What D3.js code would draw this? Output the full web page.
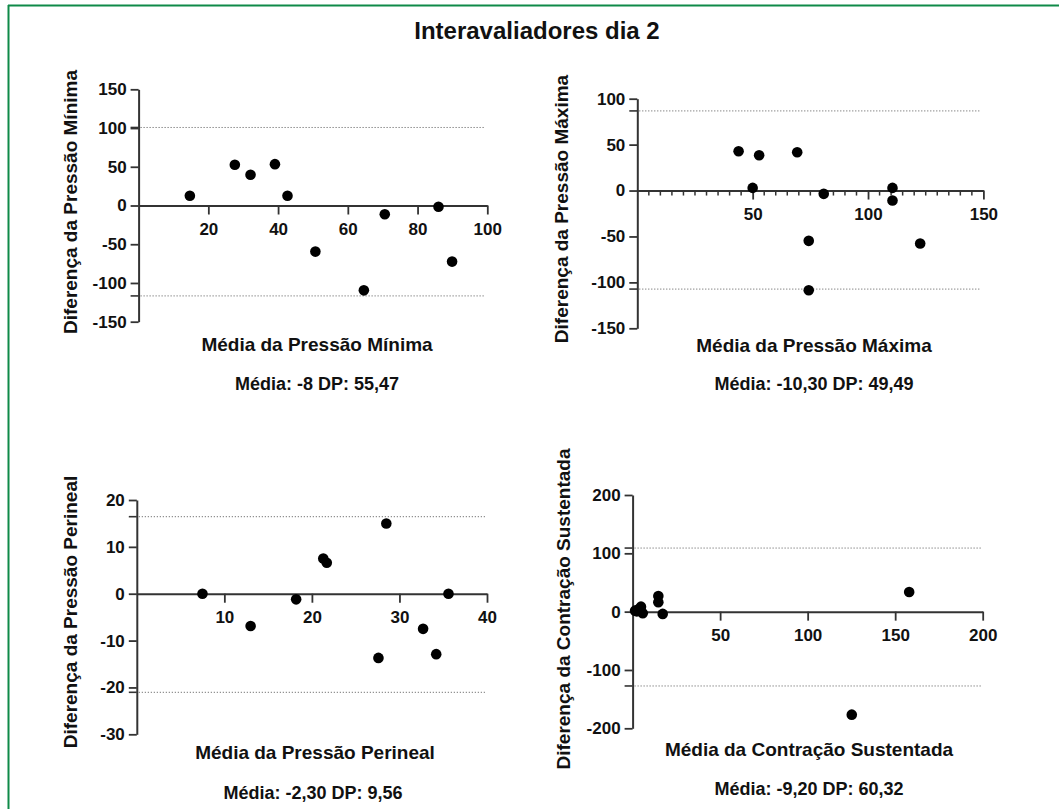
<!DOCTYPE html>
<html>
<head>
<meta charset="utf-8">
<script src="https://cdn.jsdelivr.net/npm/d3@7"></script>
<style>
  body { margin: 0; background: #fff; }
  text { font-family: "Liberation Sans", Arial, sans-serif; font-weight: bold; fill: #111; }
</style>
</head>
<body>
<svg width="1059" height="809"></svg>
<script>
const width = 1059, height = 809;

// Pressão Mínima
const minX = [14.7, 27.6, 32.1, 39.1, 42.7, 50.7, 64.6, 70.6, 86.0, 89.9];
const minY = [12.5, 52.6, 39.7, 53.4, 12.5, -59.5, -109.5, -11.2, -1.7, -72.4];
// Pressão Máxima
const maxX = [43.9, 52.8, 50.0, 69.3, 80.8, 74.3, 74.3, 110.6, 110.6, 122.6];
const maxY = [42.8, 38.5, 2.9, 41.7, -3.6, -54.8, -108.5, 2.9, -10.9, -57.7];
// Pressão Perineal
const perX = [7.5, 13.0, 18.2, 21.3, 21.7, 28.5, 27.6, 32.7, 34.2, 35.6];
const perY = [0, -6.9, -1.2, 7.5, 6.6, 15.0, -13.7, -7.5, -12.9, 0];
// Contração Sustentada
const conX = [1.4, 3.3, 2.4, 4.8, 5.8, 14.7, 14.7, 17.2, 125.2, 158.0];
const conY = [1.7, 4.1, 0.5, 8.6, -2.7, 26.9, 16.1, -3.9, -176.6, 33.7];

const yTitles = ["Diferença da Pressão Mínima", "Diferença da Pressão Máxima",
                 "Diferença da Pressão Perineal", "Diferença da Contração Sustentada"];
const xTitles = ["Média da Pressão Mínima", "Média da Pressão Máxima",
                 "Média da Pressão Perineal", "Média da Contração Sustentada"];
const statLabels = ["Média: -8 DP: 55,47", "Média: -10,30 DP: 49,49",
                    "Média: -2,30 DP: 9,56", "Média: -9,20 DP: 60,32"];
const means = [-8, -10.3, -2.3, -9.2];
const sds = [55.47, 49.49, 9.56, 60.32];

const xTicks = [[20, 40, 60, 80, 100], [50, 100, 150], [10, 20, 30, 40], [50, 100, 150, 200]];
const yTicks = [[-150, -100, -50, 0, 50, 100, 150], [-150, -100, -50, 0, 50, 100],
                [-30, -20, -10, 0, 10, 20], [-200, -100, 0, 100, 200]];
const xDomains = [[0, 100], [0, 150], [0, 40], [0, 200]];
const yDomains = [[-150, 150], [-150, 100], [-30, 20], [-200, 200]];

// panel layout (pixels)
const layout = [
  {xr: [138.6, 487.3], yr: [321.7, 89.3], dotEnd: 485, yt: [70, 202], xt: [317, 344], st: [317, 384], minor: 0},
  {xr: [637.3, 983.4], yr: [328.3, 98.7], dotEnd: 981, yt: [561, 209], xt: [814, 345], st: [814, 384], minor: 5},
  {xr: [136.8, 487.0], yr: [734.3, 500.0], dotEnd: 485, yt: [70, 612], xt: [315, 752], st: [313, 793], minor: 0},
  {xr: [632.6, 982.7], yr: [728.3, 495.0], dotEnd: 981, yt: [563, 609], xt: [809, 749], st: [809, 789], minor: 0}
];
const series = [[minX, minY], [maxX, maxY], [perX, perY], [conX, conY]];

const svg = d3.select("svg");
svg.append("rect").attr("width", width).attr("height", height).attr("fill", "#fff");

// green frame
svg.append("line").attr("x1", 8).attr("x2", width).attr("y1", 5.5).attr("y2", 5.5)
  .attr("stroke", "#0f8a48").attr("stroke-width", 2);
svg.append("line").attr("x1", 8.5).attr("x2", 8.5).attr("y1", 5).attr("y2", height)
  .attr("stroke", "#0f8a48").attr("stroke-width", 2);

// title
svg.append("text")
  .attr("x", 537).attr("y", 39)
  .attr("text-anchor", "middle")
  .style("font-size", "24px")
  .text("Interavaliadores dia 2");

layout.forEach((L, i) => {
  const x = d3.scaleLinear().domain(xDomains[i]).range(L.xr);
  const y = d3.scaleLinear().domain(yDomains[i]).range(L.yr);
  const g = svg.append("g");

  // limits of agreement
  const lims = [means[i] + 1.96 * sds[i], means[i] - 1.96 * sds[i]];
  g.selectAll(".lim").data(lims).enter().append("line")
    .attr("x1", x(0) + 2).attr("x2", L.dotEnd)
    .attr("y1", d => y(d)).attr("y2", d => y(d))
    .attr("stroke", "#555").attr("stroke-width", 1)
    .attr("stroke-dasharray", "1,2");
  g.selectAll(".limtick").data(lims).enter().append("line")
    .attr("x1", x(0) - 8).attr("x2", x(0))
    .attr("y1", d => y(d)).attr("y2", d => y(d))
    .attr("stroke", "#333").attr("stroke-width", 1.6);

  const fmt = d => String(d);
  // y axis
  const ya = g.append("g").attr("transform", `translate(${x(0)},0)`)
    .call(d3.axisLeft(y).tickValues(yTicks[i]).tickFormat(fmt)
      .tickSize(8).tickSizeOuter(0).tickPadding(4));
  // x axis at zero
  const xa = g.append("g").attr("transform", `translate(0,${y(0)})`)
    .call(d3.axisBottom(x).tickValues(xTicks[i]).tickFormat(fmt)
      .tickSize(9).tickSizeOuter(0).tickPadding(8));

  [ya, xa].forEach(a => {
    a.select(".domain").attr("stroke", "#333").attr("stroke-width", 2);
    a.selectAll(".tick line").attr("stroke", "#333").attr("stroke-width", 1.8);
    a.selectAll(".tick text").style("font-size", "17px").style("fill", "#111");
  });

  if (L.minor) {
    const minors = d3.range(L.minor, xDomains[i][1], L.minor).filter(v => !xTicks[i].includes(v));
    g.selectAll(".minor").data(minors).enter().append("line")
      .attr("x1", d => x(d)).attr("x2", d => x(d))
      .attr("y1", y(0)).attr("y2", y(0) + 5)
      .attr("stroke", "#333").attr("stroke-width", 1.5);
  }

  // points
  const [xs, ys] = series[i];
  g.selectAll(".pt").data(xs.map((v, k) => [v, ys[k]])).enter().append("circle")
    .attr("cx", d => x(d[0])).attr("cy", d => y(d[1]))
    .attr("r", 5.3).attr("fill", "#000");

  // titles
  g.append("text")
    .attr("transform", `translate(${L.yt[0]},${L.yt[1]}) rotate(-90)`)
    .attr("text-anchor", "middle").attr("dy", "0.35em")
    .style("font-size", "19px")
    .text(yTitles[i]);
  g.append("text")
    .attr("x", L.xt[0]).attr("y", L.xt[1]).attr("dy", "0.35em")
    .attr("text-anchor", "middle").style("font-size", "19px")
    .text(xTitles[i]);
  g.append("text")
    .attr("x", L.st[0]).attr("y", L.st[1]).attr("dy", "0.35em")
    .attr("text-anchor", "middle").style("font-size", "18px")
    .text(statLabels[i]);
});
</script>
</body>
</html>
